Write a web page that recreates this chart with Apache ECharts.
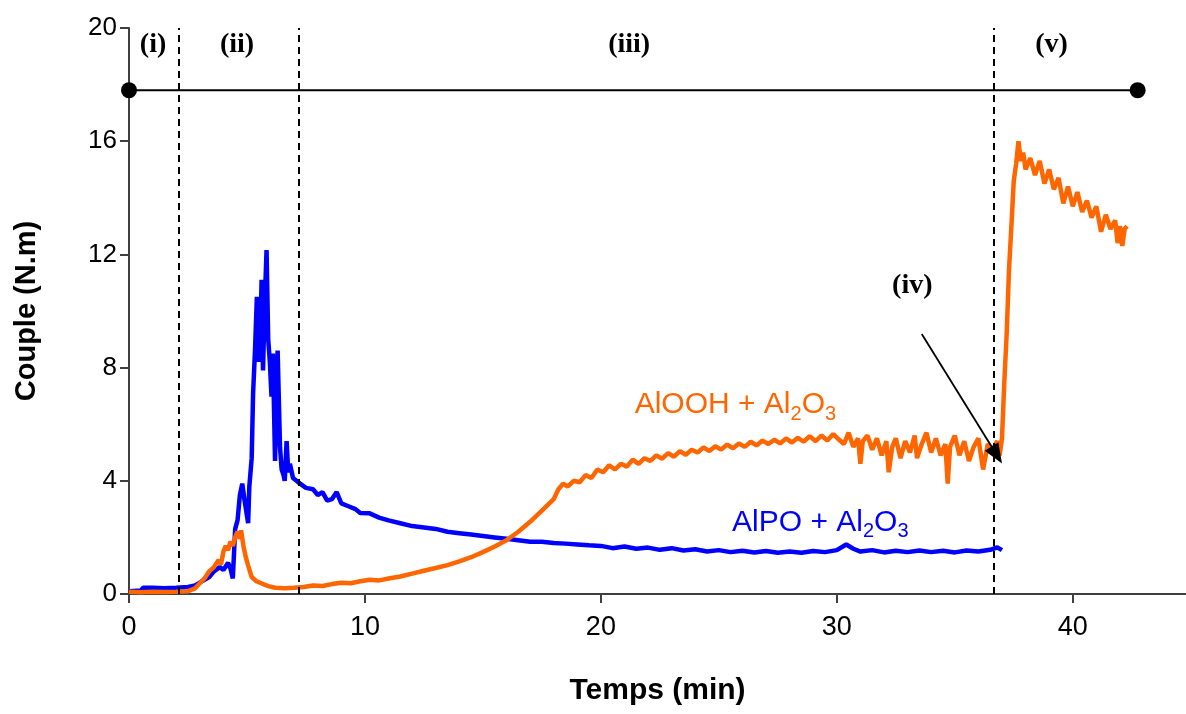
<!DOCTYPE html>
<html>
<head>
<meta charset="utf-8">
<script src="https://cdn.jsdelivr.net/npm/echarts@6/dist/echarts.min.js"></script>
<style>
html,body{margin:0;padding:0;background:#fff;}
#chart{width:1186px;height:714px;}
</style>
</head>
<body>
<div id="chart"></div>
<script>
// ---- Data ----
var xTickStep = 10;
var yTickStep = 4;
var xTitle = 'Temps (min)';
var yTitle = 'Couple (N.m)';

// AlOOH + Al2O3 (orange) [time, torque]
var aloohData = [
 [0,0.08],[0.5,0.06],[1,0.08],[1.5,0.07],[2,0.08],[2.5,0.1],[2.8,0.2],[3.0,0.38],[3.2,0.55],[3.4,0.8],
 [3.6,0.95],[3.8,1.2],[3.9,1.05],[4.0,1.5],[4.1,1.7],[4.2,1.55],[4.3,1.85],[4.4,1.7],[4.5,2.0],[4.6,2.2],
 [4.7,1.95],[4.75,2.25],[4.85,1.7],[4.95,1.3],[5.05,1.0],[5.2,0.6],[5.4,0.45],[5.6,0.38],[5.9,0.28],[6.2,0.22],
 [6.6,0.2],[7.0,0.22],[7.4,0.25],[7.8,0.3],[8.2,0.28],[8.6,0.35],[9.0,0.4],[9.4,0.38],[9.8,0.45],[10.2,0.5],
 [10.6,0.48],[11,0.55],[11.5,0.62],[12,0.72],[12.5,0.82],[13,0.92],[13.5,1.02],[14,1.15],[14.5,1.3],[15,1.48],
 [15.5,1.68],[16,1.9],[16.5,2.2],[17,2.55],[17.5,2.95],[18,3.35],[18.2,3.7],[18.4,3.9],[18.6,3.8],[18.85,4.0],
 [19.1,3.95],[19.35,4.2],[19.6,4.1],[19.85,4.4],[20.1,4.3],[20.35,4.55],[20.6,4.4],[20.85,4.6],[21.1,4.5],[21.35,4.75],
 [21.6,4.6],[21.85,4.8],[22.1,4.7],[22.35,4.9],[22.6,4.78],[22.85,4.98],[23.1,4.85],[23.35,5.05],[23.6,4.92],[23.85,5.1],
 [24.1,5.0],[24.35,5.18],[24.6,5.05],[24.85,5.22],[25.1,5.1],[25.35,5.28],[25.6,5.15],[25.85,5.32],[26.1,5.2],[26.35,5.38],
 [26.6,5.25],[26.85,5.42],[27.1,5.3],[27.35,5.45],[27.6,5.32],[27.85,5.5],[28.1,5.35],[28.35,5.52],[28.6,5.38],[28.85,5.58],
 [29.1,5.4],[29.35,5.6],[29.6,5.42],[29.85,5.65],[30.1,5.45],[30.3,5.3],[30.5,5.7],
 [30.7,5.2],[30.9,5.5],[31.0,4.6],[31.1,5.4],[31.3,5.6],[31.5,5.1],[31.7,5.5],[31.9,4.9],[32.1,5.4],[32.2,4.3],
 [32.35,5.2],[32.5,5.5],[32.7,4.8],[32.9,5.4],[33.1,5.0],[33.3,5.6],[33.4,4.8],[33.6,5.3],[33.8,5.7],[34.0,5.0],
 [34.2,5.5],[34.4,4.9],[34.6,5.3],[34.7,3.9],[34.8,5.2],[35.0,5.6],[35.2,4.9],[35.4,5.4],[35.6,4.7],[35.8,5.2],
 [36.0,5.5],[36.2,4.4],[36.4,5.3],[36.6,5.1],[36.8,5.4],[36.9,4.9],[37.0,5.5],[37.1,7.5],[37.2,9.2],[37.3,11.5],
 [37.4,13.0],[37.5,14.6],[37.6,15.2],[37.7,16.0],[37.8,15.3],[37.9,15.6],[38.0,15.0],[38.2,15.4],[38.4,14.8],[38.6,15.3],
 [38.8,14.5],[39.0,15.0],[39.2,14.3],[39.4,14.7],[39.6,13.8],[39.8,14.4],[40.0,13.7],[40.2,14.2],[40.4,13.5],[40.6,13.9],
 [40.8,13.3],[41.0,13.7],[41.2,12.8],[41.4,13.4],[41.6,12.9],[41.8,13.2],[41.9,12.4],[42.0,13.0],[42.1,12.3],[42.2,12.9],[42.3,13.0]
];

// AlPO + Al2O3 (blue) [time, torque]
var alpoData = [
 [0,0.1],[0.5,0.12],[0.6,0.22],[1,0.22],[1.5,0.2],[2,0.22],[2.5,0.25],[2.8,0.3],[3.0,0.4],[3.2,0.5],
 [3.4,0.6],[3.6,0.8],[3.85,0.95],[4.0,0.85],[4.2,1.1],[4.3,0.9],[4.4,0.55],[4.5,2.3],[4.6,2.6],[4.7,3.5],
 [4.8,3.9],[4.9,3.3],[5.05,2.5],[5.1,3.8],[5.2,4.8],[5.26,7.1],[5.34,8.6],[5.42,10.5],[5.5,8.2],[5.58,9.5],
 [5.62,11.1],[5.68,7.9],[5.75,10.2],[5.83,12.15],[5.9,9.0],[5.97,8.2],[6.04,6.97],[6.1,8.5],[6.19,4.7],[6.3,8.6],
 [6.4,5.2],[6.47,4.4],[6.55,4.2],[6.6,4.0],[6.68,5.4],[6.75,4.3],[6.82,4.6],[6.95,4.1],[7.1,4.0],[7.25,3.9],
 [7.5,3.75],[7.8,3.7],[8.0,3.5],[8.2,3.6],[8.4,3.3],[8.6,3.35],[8.8,3.6],[9.0,3.2],[9.3,3.1],[9.6,3.0],
 [9.8,2.86],[10.2,2.85],[10.6,2.7],[11,2.6],[11.5,2.5],[12,2.4],[12.5,2.35],[13,2.3],[13.5,2.2],[14,2.15],
 [14.5,2.1],[15,2.05],[15.5,2.0],[16,1.95],[16.5,1.9],[17,1.85],[17.5,1.85],[18,1.8],[18.5,1.78],[19,1.75],
 [19.5,1.72],[20,1.7],[20.5,1.62],[21,1.68],[21.5,1.6],[22,1.64],[22.5,1.56],[23,1.62],[23.5,1.54],[24,1.58],
 [24.5,1.5],[25,1.55],[25.5,1.48],[26,1.53],[26.5,1.47],[27,1.52],[27.5,1.46],[28,1.5],[28.5,1.46],[29,1.52],
 [29.5,1.48],[30,1.55],[30.4,1.75],[30.7,1.6],[31,1.5],[31.5,1.55],[32,1.47],[32.5,1.53],[33,1.48],[33.5,1.54],
 [34,1.48],[34.5,1.53],[35,1.47],[35.5,1.54],[36,1.5],[36.5,1.56],[36.8,1.65],[37.0,1.55]
];

// Stage boundaries (dashed), stage bar, arrow and labels
var stageBounds = [2.12, 7.2, 36.65];
var stageBar = [[0,17.8],[42.75,17.8]];
var arrowLine = [[33.6,9.19],[36.78,4.91]];
var stageLabels = [
 [1.02,19.4,'(i)'],[4.58,19.4,'(ii)'],[21.2,19.4,'(iii)'],[33.2,10.9,'(iv)'],[39.1,19.4,'(v)']
];
var seriesLabels = [
 [25.7,6.6,'{a|AlOOH + Al}{s|2}{a|O}{s|3}','#FF6600'],
 [29.3,2.45,'{a|AlPO + Al}{s|2}{a|O}{s|3}','#0000FF']
];

var chart = echarts.init(document.getElementById('chart'), null, {renderer:'canvas'});
var sansFont = '"Liberation Sans", Arial, sans-serif';
var serifFont = '"Liberation Serif", "Times New Roman", serif';

var richStyles = function(color){
  return {
    a:{fontSize:30, fontFamily:sansFont, color:color, lineHeight:34, verticalAlign:'top', opacity:1},
    s:{fontSize:20, fontFamily:sansFont, color:color, lineHeight:20, verticalAlign:'bottom', opacity:1}
  };
};

chart.setOption({
  animation:false,
  backgroundColor:'#ffffff',
  grid:{left:129, top:28, right:0, bottom:120, containLabel:false},
  xAxis:{
    type:'value', min:0, max:44.8, interval:xTickStep,
    name:xTitle, nameLocation:'middle', nameGap:82,
    nameTextStyle:{fontSize:30, fontWeight:'bold', color:'#000', fontFamily:sansFont},
    axisLine:{show:true, lineStyle:{color:'#404040', width:2}},
    axisTick:{show:true, inside:false, length:9, lineStyle:{color:'#404040', width:2}},
    axisLabel:{fontSize:27, color:'#000', fontFamily:sansFont, margin:20, showMaxLabel:false,
      formatter:function(v){ return (Math.abs(v % xTickStep) < 1e-9) ? String(v) : ''; }},
    splitLine:{show:false}
  },
  yAxis:{
    type:'value', min:0, max:20, interval:yTickStep,
    name:yTitle, nameLocation:'middle', nameGap:88, nameRotate:90,
    nameTextStyle:{fontSize:29, fontWeight:'bold', color:'#000', fontFamily:sansFont},
    axisLine:{show:true, lineStyle:{color:'#404040', width:2}},
    axisTick:{show:true, inside:false, length:9, lineStyle:{color:'#404040', width:2}},
    axisLabel:{fontSize:26, color:'#000', fontFamily:sansFont, margin:12},
    splitLine:{show:false}
  },
  series:[
    {
      name:'AlPO + Al2O3', type:'line', data:alpoData, showSymbol:false, symbol:'none',
      lineStyle:{color:'#0000FF', width:4.5}, z:3,
      markLine:{
        silent:true, symbol:['none','none'], label:{show:false},
        lineStyle:{color:'#000', type:[7,5], width:2},
        data: stageBounds.map(function(v){ return {xAxis:v}; })
      }
    },
    {
      name:'AlOOH + Al2O3', type:'line', data:aloohData, showSymbol:false, symbol:'none',
      lineStyle:{color:'#FF6600', width:4.5}, z:4,
      markLine:{
        silent:true, symbol:['none','triangle'], symbolSize:[16,20], label:{show:false},
        lineStyle:{color:'#000', type:'solid', width:1.8},
        data:[[{coord:arrowLine[0]},{coord:arrowLine[1]}]]
      }
    },
    {
      name:'stages', type:'line', data:stageBar, symbol:'circle', symbolSize:16, showSymbol:true, clip:false,
      itemStyle:{color:'#000'}, lineStyle:{color:'#000', width:2}, z:5
    },
    {
      name:'stageLabels', type:'scatter', data:stageLabels, symbolSize:0, z:6,
      itemStyle:{opacity:1},
      label:{show:true, position:'inside', formatter:function(p){return p.data[2];}, opacity:1,
        fontFamily:serifFont, fontWeight:'bold', fontSize:28, color:'#000'}
    },
    {
      name:'seriesLabels', type:'scatter', symbolSize:0, z:6,
      itemStyle:{opacity:1},
      data: seriesLabels.map(function(d){
        return {value:[d[0],d[1]], label:{show:true, position:'inside', opacity:1, formatter:d[2], rich:richStyles(d[3])}};
      })
    }
  ]
});
</script>
</body>
</html>
